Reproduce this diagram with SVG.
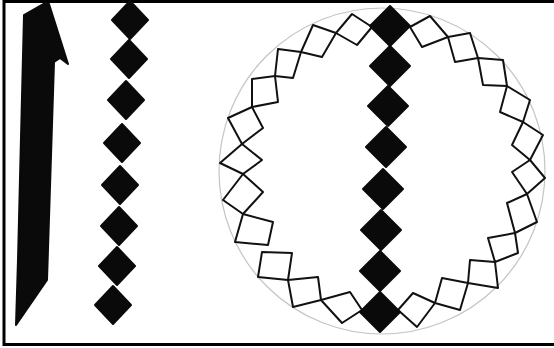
<svg xmlns="http://www.w3.org/2000/svg" width="554" height="348" viewBox="0 0 554 348">
<style>
.frame{fill:none;stroke:#000;stroke-width:3}
.solid{fill:#0a0a0a;stroke:#0a0a0a;stroke-width:2;stroke-linejoin:round}
.ring{fill:none;stroke:#111;stroke-width:2;stroke-linejoin:round}
.circ{fill:none;stroke:#c4c4c4;stroke-width:1.2}
</style>
<defs>
<path id="dL" d="M0,-19 L18,0 L0,19 L-18,0 Z"/>
<path id="dC" d="M0,-20 L20,0 L0,20 L-20,0 Z"/>
</defs>
<rect x="0" y="0" width="554" height="348" fill="#fff"/>
<rect class="frame" x="4" y="1.5" width="570" height="343"/>
<g id="arrow">
<polygon class="solid" points="24,15 45,3 49,4 68,64 60,58 54,62 47,280 16,325 18,260"/>
</g>
<g id="chain">
<use href="#dL" class="solid" x="130" y="20"/>
<use href="#dL" class="solid" x="129" y="59"/>
<use href="#dL" class="solid" x="126" y="100"/>
<use href="#dL" class="solid" x="122" y="143"/>
<use href="#dL" class="solid" x="120" y="185"/>
<use href="#dL" class="solid" x="119" y="226"/>
<use href="#dL" class="solid" x="117" y="266"/>
<use href="#dL" class="solid" x="113" y="305"/>
</g>
<g id="circle-figure">
<ellipse class="circ" cx="382" cy="171" rx="163" ry="163"/>
<g id="ring-left">
<polygon class="ring" points="352,14 372,27 357,45 336,33"/>
<polygon class="ring" points="313,25 336,33 322,57 301,52"/>
<polygon class="ring" points="278,49 301,52 293,78 275,76"/>
<polygon class="ring" points="252,79 275,76 278,102 252,107"/>
<polygon class="ring" points="228,118 252,107 263,128 242,144"/>
<polygon class="ring" points="242,144 262,160 243,174 220,163"/>
<polygon class="ring" points="243,174 263,192 243,214 223,200"/>
<polygon class="ring" points="243,214 273,222 268,245 235,242"/>
<polygon class="ring" points="262,252 292,253 288,280 258,277"/>
<polygon class="ring" points="288,280 318,277 321,300 293,307"/>
<polygon class="ring" points="321,300 350,292 362,310 342,323"/>
</g>
<g id="ring-right">
<polygon class="ring" points="410,27 430,16 448,37 422,47"/>
<polygon class="ring" points="448,37 470,33 478,58 455,62"/>
<polygon class="ring" points="478,58 503,60 507,86 483,85"/>
<polygon class="ring" points="507,86 530,100 523,122 500,112"/>
<polygon class="ring" points="523,122 543,135 530,160 512,145"/>
<polygon class="ring" points="530,160 545,178 527,194 512,172"/>
<polygon class="ring" points="527,194 537,222 515,233 507,203"/>
<polygon class="ring" points="515,233 518,253 495,262 488,238"/>
<polygon class="ring" points="495,262 498,288 468,283 470,260"/>
<polygon class="ring" points="468,283 460,310 435,303 442,278"/>
<polygon class="ring" points="435,303 417,327 398,310 413,293"/>
</g>
<g id="spine">
<use href="#dC" class="solid" x="390" y="26"/>
<use href="#dC" class="solid" x="390" y="66"/>
<use href="#dC" class="solid" x="388" y="106"/>
<use href="#dC" class="solid" x="386" y="147"/>
<use href="#dC" class="solid" x="383" y="189"/>
<use href="#dC" class="solid" x="381" y="230"/>
<use href="#dC" class="solid" x="380" y="271"/>
<use href="#dC" class="solid" x="380" y="312"/>
</g>
</g>
</svg>
